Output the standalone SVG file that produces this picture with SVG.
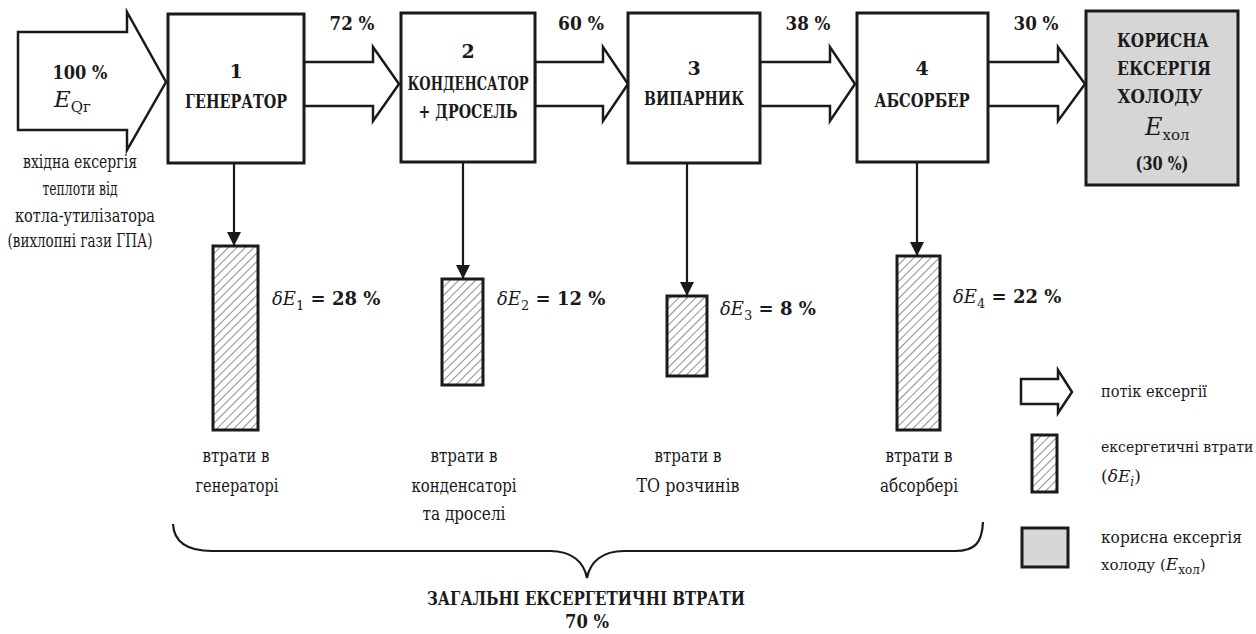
<svg xmlns="http://www.w3.org/2000/svg" width="1256" height="634" viewBox="0 0 1256 634">
<defs>
<style>
.t{font-family:'DejaVu Serif','Liberation Serif',serif;fill:#1a1a1a}
.b{font-weight:bold}
.i{font-style:italic}
.box{fill:#fff;stroke:#1a1a1a;stroke-width:3}
.gbox{fill:#d6d6d6;stroke:#1a1a1a;stroke-width:3}
.flow{fill:#fff;stroke:#1a1a1a;stroke-width:2.5;stroke-linejoin:miter}
.bar{fill:url(#hatch);stroke:#1a1a1a;stroke-width:3}
.down{stroke:#1a1a1a;stroke-width:2.2;fill:none;marker-end:url(#ah)}
.brace{fill:none;stroke:#1a1a1a;stroke-width:2.2}
</style>
<pattern id="hatch" patternUnits="userSpaceOnUse" width="6" height="6" patternTransform="rotate(45)">
<rect width="6" height="6" fill="#fff"/>
<line x1="0" y1="0" x2="0" y2="6" stroke="#444" stroke-width="1.2"/>
</pattern>
<marker id="ah" viewBox="0 0 14 17" refX="14" refY="7" markerWidth="14" markerHeight="17" markerUnits="userSpaceOnUse" orient="auto">
<path d="M0,0 L14,7 L0,14 z" fill="#1a1a1a"/>
</marker>
</defs>
<rect width="1256" height="634" fill="#fff"/>

<g id="connectors">
<polygon class="flow" points="18,32 127,32 127,12 166,82 127,150 127,130 18,130"/>
<polygon class="flow" points="304,62 373,62 373,47 399,84 373,121 373,106 304,106"/>
<polygon class="flow" points="535,62 603,62 603,47 628,84 603,121 603,106 535,106"/>
<polygon class="flow" points="760,62 830,62 830,47 855,84 830,121 830,106 760,106"/>
<polygon class="flow" points="988,62 1058,62 1058,47 1085,84 1058,121 1058,106 988,106"/>
<line class="down" x1="234" y1="163" x2="234" y2="246"/>
<line class="down" x1="463" y1="162" x2="463" y2="279"/>
<line class="down" x1="687" y1="163" x2="687" y2="296"/>
<line class="down" x1="917" y1="162" x2="917" y2="256"/>
<path class="brace" d="M173,524 C174,543 188,551 212,551 L550,551 C572,551 584,562 587,578 C590,562 602,551 624,551 L955,551 C975,551 982,543 983,522"/>
</g>

<g id="input">
<text class="t b" x="80" y="79" font-size="19" text-anchor="middle" textLength="55" lengthAdjust="spacingAndGlyphs">100 %</text>
<text class="t" x="54" y="107"><tspan class="i" font-size="23">E</tspan><tspan font-size="15" dy="5">Qг</tspan></text>
<text class="t" x="80" y="168" font-size="18" text-anchor="middle" textLength="114" lengthAdjust="spacingAndGlyphs">вхідна ексергія</text>
<text class="t" x="80" y="195" font-size="18" text-anchor="middle" textLength="75" lengthAdjust="spacingAndGlyphs">теплоти від</text>
<text class="t" x="85" y="222" font-size="18" text-anchor="middle" textLength="140" lengthAdjust="spacingAndGlyphs">котла-утилізатора</text>
<text class="t" x="80" y="247" font-size="18" text-anchor="middle" textLength="145" lengthAdjust="spacingAndGlyphs">(вихлопні гази ГПА)</text>
</g>

<g id="flow-labels">
<text class="t b" x="352" y="30" font-size="19" text-anchor="middle" textLength="45" lengthAdjust="spacingAndGlyphs">72 %</text>
<text class="t b" x="581" y="30" font-size="19" text-anchor="middle" textLength="46" lengthAdjust="spacingAndGlyphs">60 %</text>
<text class="t b" x="808" y="30" font-size="19" text-anchor="middle" textLength="45" lengthAdjust="spacingAndGlyphs">38 %</text>
<text class="t b" x="1036" y="30" font-size="19" text-anchor="middle" textLength="45" lengthAdjust="spacingAndGlyphs">30 %</text>
</g>

<g id="node1">
<rect class="box" x="168" y="14" width="136" height="149"/>
<text class="t b" x="236" y="78" font-size="19" text-anchor="middle">1</text>
<text class="t b" x="236" y="108" font-size="18" text-anchor="middle" textLength="102" lengthAdjust="spacingAndGlyphs">ГЕНЕРАТОР</text>
</g>
<g id="node2">
<rect class="box" x="401" y="13" width="134" height="149"/>
<text class="t b" x="468" y="58" font-size="19" text-anchor="middle">2</text>
<text class="t b" x="468" y="90" font-size="18" text-anchor="middle" textLength="121" lengthAdjust="spacingAndGlyphs">КОНДЕНСАТОР</text>
<text class="t b" x="468" y="118" font-size="18" text-anchor="middle" textLength="99" lengthAdjust="spacingAndGlyphs">+ ДРОСЕЛЬ</text>
</g>
<g id="node3">
<rect class="box" x="628" y="13" width="132" height="150"/>
<text class="t b" x="694" y="75" font-size="19" text-anchor="middle">3</text>
<text class="t b" x="694" y="105" font-size="18" text-anchor="middle" textLength="100" lengthAdjust="spacingAndGlyphs">ВИПАРНИК</text>
</g>
<g id="node4">
<rect class="box" x="857" y="13" width="131" height="149"/>
<text class="t b" x="922" y="75" font-size="19" text-anchor="middle">4</text>
<text class="t b" x="922" y="107" font-size="18" text-anchor="middle" textLength="95" lengthAdjust="spacingAndGlyphs">АБСОРБЕР</text>
</g>
<g id="node5">
<rect class="gbox" x="1086" y="11" width="152" height="174"/>
<text class="t b" x="1163" y="47" font-size="18" text-anchor="middle" textLength="92" lengthAdjust="spacingAndGlyphs">КОРИСНА</text>
<text class="t b" x="1164" y="75" font-size="18" text-anchor="middle" textLength="94" lengthAdjust="spacingAndGlyphs">ЕКСЕРГІЯ</text>
<text class="t b" x="1160" y="103" font-size="18" text-anchor="middle" textLength="85" lengthAdjust="spacingAndGlyphs">ХОЛОДУ</text>
<text class="t" x="1145" y="135"><tspan class="i" font-size="24">E</tspan><tspan font-size="15" dy="5">хол</tspan></text>
<text class="t b" x="1162" y="170" font-size="19" text-anchor="middle" textLength="53" lengthAdjust="spacingAndGlyphs">(30 %)</text>
</g>

<g id="loss1">
<rect class="bar" x="213" y="246" width="45" height="184"/>
<text class="t" x="272" y="305" font-size="18"><tspan class="i">δE</tspan><tspan font-size="13" dy="5">1</tspan><tspan class="b" dy="-5"> = 28 %</tspan></text>
<text class="t" x="236" y="462" font-size="18" text-anchor="middle" textLength="67" lengthAdjust="spacingAndGlyphs">втрати в</text>
<text class="t" x="237" y="492" font-size="18" text-anchor="middle" textLength="83" lengthAdjust="spacingAndGlyphs">генераторі</text>
</g>
<g id="loss2">
<rect class="bar" x="442" y="279" width="41" height="106"/>
<text class="t" x="497" y="305" font-size="18"><tspan class="i">δE</tspan><tspan font-size="13" dy="5">2</tspan><tspan class="b" dy="-5"> = 12 %</tspan></text>
<text class="t" x="464" y="462" font-size="18" text-anchor="middle" textLength="67" lengthAdjust="spacingAndGlyphs">втрати в</text>
<text class="t" x="464" y="492" font-size="18" text-anchor="middle" textLength="105" lengthAdjust="spacingAndGlyphs">конденсаторі</text>
<text class="t" x="464" y="520" font-size="18" text-anchor="middle" textLength="83" lengthAdjust="spacingAndGlyphs">та дроселі</text>
</g>
<g id="loss3">
<rect class="bar" x="667" y="296" width="40" height="80"/>
<text class="t" x="720" y="315" font-size="18"><tspan class="i">δE</tspan><tspan font-size="13" dy="5">3</tspan><tspan class="b" dy="-5"> = 8 %</tspan></text>
<text class="t" x="688" y="462" font-size="18" text-anchor="middle" textLength="67" lengthAdjust="spacingAndGlyphs">втрати в</text>
<text class="t" x="688" y="492" font-size="18" text-anchor="middle" textLength="103" lengthAdjust="spacingAndGlyphs">ТО розчинів</text>
</g>
<g id="loss4">
<rect class="bar" x="897" y="256" width="43" height="174"/>
<text class="t" x="953" y="303" font-size="18"><tspan class="i">δE</tspan><tspan font-size="13" dy="5">4</tspan><tspan class="b" dy="-5"> = 22 %</tspan></text>
<text class="t" x="919" y="462" font-size="18" text-anchor="middle" textLength="67" lengthAdjust="spacingAndGlyphs">втрати в</text>
<text class="t" x="919" y="492" font-size="18" text-anchor="middle" textLength="78" lengthAdjust="spacingAndGlyphs">абсорбері</text>
</g>

<g id="total">
<text class="t b" x="586" y="605" font-size="18" text-anchor="middle" textLength="318" lengthAdjust="spacingAndGlyphs">ЗАГАЛЬНІ ЕКСЕРГЕТИЧНІ ВТРАТИ</text>
<text class="t b" x="587" y="628" font-size="18" text-anchor="middle" textLength="44" lengthAdjust="spacingAndGlyphs">70 %</text>
</g>

<g id="legend">
<polygon class="flow" points="1021,379 1058,379 1058,370 1072,392 1058,413 1058,404 1021,404"/>
<text class="t" x="1101" y="397" font-size="17" textLength="106" lengthAdjust="spacingAndGlyphs">потік ексергії</text>
<rect class="bar" x="1032" y="435" width="25" height="57" stroke-width="2.5"/>
<text class="t" x="1101" y="452" font-size="14">ексергетичні втрати</text>
<text class="t" x="1101" y="482" font-size="17">(<tspan class="i">δE</tspan><tspan class="i" font-size="12" dy="4">i</tspan><tspan dy="-4">)</tspan></text>
<rect class="gbox" x="1022" y="528" width="46" height="39" stroke-width="2.5"/>
<text class="t" x="1101" y="543" font-size="17" textLength="141" lengthAdjust="spacingAndGlyphs">корисна ексергія</text>
<text class="t" x="1101" y="570" font-size="15">холоду (<tspan class="i" font-size="17">E</tspan><tspan font-size="12" dy="4">хол</tspan><tspan dy="-4">)</tspan></text>
</g>
</svg>
